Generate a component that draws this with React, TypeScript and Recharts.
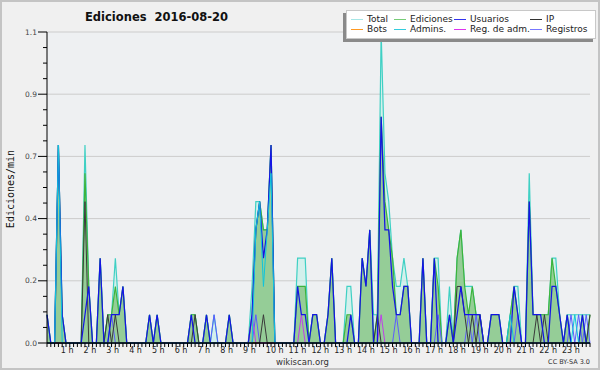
import React from 'react';
import {
  ComposedChart,
  Area,
  Line,
  XAxis,
  YAxis,
  CartesianGrid,
  ReferenceLine,
} from 'recharts';

// Ediciones por minuto, en intervalos de 10 minutos (144 por día), 12 por fila = 2 horas
const total = [
  0.1, 0, 0, 0.7, 0.1, 0, 0, 0, 0, 0, 0.7, 0.2,
  0, 0, 0.3, 0, 0.1, 0.1, 0.3, 0.1, 0.2, 0, 0, 0,
  0, 0, 0, 0.1, 0, 0.1, 0, 0, 0, 0, 0, 0,
  0, 0, 0.1, 0.1, 0, 0, 0.1, 0, 0.1, 0, 0, 0,
  0.1, 0, 0, 0, 0, 0, 0.2, 0.5, 0.5, 0.4, 0.4, 0.7,
  0, 0, 0, 0, 0, 0, 0.3, 0.3, 0.3, 0, 0.1, 0.1,
  0, 0, 0.1, 0.3, 0, 0, 0, 0.2, 0.2, 0, 0, 0.3,
  0.2, 0.4, 0.1, 0.1, 1.1, 0.6, 0.5, 0.3, 0.2, 0.2, 0.3, 0.2,
  0, 0, 0, 0.3, 0, 0, 0.3, 0.3, 0, 0, 0.2, 0,
  0.3, 0.4, 0.2, 0.2, 0.2, 0.1, 0.1, 0, 0, 0.1, 0.1, 0.1,
  0, 0, 0.1, 0.2, 0.2, 0, 0, 0.6, 0.1, 0.1, 0.1, 0.1,
  0.1, 0.3, 0.3, 0.1, 0, 0.1, 0.1, 0.1, 0.1, 0.1, 0.1, 0.1,
];

const ediciones = [
  0.1, 0, 0, 0.7, 0.1, 0, 0, 0, 0, 0, 0.6, 0.2,
  0, 0, 0.3, 0, 0.1, 0.1, 0.2, 0.1, 0.2, 0, 0, 0,
  0, 0, 0, 0.1, 0, 0.1, 0, 0, 0, 0, 0, 0,
  0, 0, 0.1, 0.1, 0, 0, 0.1, 0, 0, 0, 0, 0,
  0.1, 0, 0, 0, 0, 0, 0.1, 0.4, 0.5, 0.4, 0.4, 0.7,
  0, 0, 0, 0, 0, 0, 0.2, 0.2, 0.2, 0, 0.1, 0.1,
  0, 0, 0.1, 0.3, 0, 0, 0, 0.1, 0.1, 0, 0, 0.3,
  0.2, 0.4, 0, 0.1, 0.8, 0.5, 0.4, 0.3, 0.1, 0.1, 0.2, 0.2,
  0, 0, 0, 0.3, 0, 0, 0.3, 0.2, 0, 0, 0.1, 0,
  0.3, 0.4, 0.2, 0.1, 0.2, 0.1, 0.1, 0, 0, 0.1, 0.1, 0.1,
  0, 0, 0.1, 0.2, 0.1, 0, 0, 0.5, 0.1, 0.1, 0.1, 0.1,
  0.1, 0.3, 0.2, 0.1, 0, 0.1, 0, 0, 0, 0.1, 0, 0.1,
];

const usuarios = [
  0.1, 0, 0, 0.7, 0.1, 0, 0, 0, 0, 0, 0.1, 0.2,
  0, 0, 0.3, 0, 0, 0.1, 0.1, 0.1, 0.2, 0, 0, 0,
  0, 0, 0, 0.1, 0, 0.1, 0, 0, 0, 0, 0, 0,
  0, 0, 0.1, 0, 0, 0, 0.1, 0, 0, 0, 0, 0,
  0.1, 0, 0, 0, 0, 0, 0.1, 0.4, 0.5, 0.3, 0.4, 0.7,
  0, 0, 0, 0, 0, 0, 0.2, 0.1, 0.1, 0, 0.1, 0.1,
  0, 0, 0.1, 0.3, 0, 0, 0, 0, 0.1, 0, 0, 0.3,
  0.2, 0.4, 0, 0, 0.8, 0.4, 0.4, 0.2, 0.1, 0.1, 0.2, 0.2,
  0, 0, 0, 0.3, 0, 0, 0.3, 0, 0, 0, 0.1, 0,
  0.1, 0.2, 0.1, 0.1, 0.1, 0.1, 0.1, 0, 0, 0.1, 0.1, 0.1,
  0, 0, 0, 0.2, 0.1, 0, 0, 0.5, 0.1, 0.1, 0.1, 0,
  0, 0.2, 0.2, 0.1, 0, 0.1, 0, 0, 0, 0.1, 0, 0,
];

const ip = [
  0, 0, 0, 0, 0, 0, 0, 0, 0, 0, 0.5, 0,
  0, 0, 0, 0, 0.1, 0, 0.1, 0, 0, 0, 0, 0,
  0, 0, 0, 0, 0, 0, 0, 0, 0, 0, 0, 0,
  0, 0, 0, 0.1, 0, 0, 0, 0, 0, 0, 0, 0,
  0, 0, 0, 0, 0, 0, 0, 0, 0, 0.1, 0, 0,
  0, 0, 0, 0, 0, 0, 0, 0, 0, 0, 0, 0,
  0, 0, 0, 0, 0, 0, 0, 0, 0, 0, 0, 0,
  0, 0, 0, 0.1, 0, 0, 0, 0, 0, 0, 0, 0,
  0, 0, 0, 0, 0, 0, 0, 0, 0, 0, 0, 0,
  0.2, 0.2, 0.1, 0, 0.1, 0, 0.1, 0, 0, 0, 0, 0,
  0, 0, 0, 0, 0, 0, 0, 0, 0, 0.1, 0, 0.1,
  0, 0, 0, 0, 0, 0, 0, 0, 0, 0, 0, 0.1,
];

const bots = [
  0, 0, 0, 0, 0, 0, 0, 0, 0, 0, 0, 0,
  0, 0, 0, 0, 0, 0, 0, 0, 0, 0, 0, 0,
  0, 0, 0, 0, 0, 0, 0, 0, 0, 0, 0, 0,
  0, 0, 0, 0, 0, 0, 0, 0, 0, 0, 0, 0,
  0, 0, 0, 0, 0, 0, 0, 0, 0, 0, 0, 0,
  0, 0, 0, 0, 0, 0, 0, 0, 0, 0, 0, 0,
  0, 0, 0, 0, 0, 0, 0, 0, 0, 0, 0, 0,
  0, 0, 0, 0, 0, 0, 0, 0, 0, 0, 0, 0,
  0, 0, 0, 0, 0, 0, 0, 0, 0, 0, 0, 0,
  0, 0, 0, 0, 0, 0, 0, 0, 0, 0, 0, 0,
  0, 0, 0, 0, 0, 0, 0, 0, 0, 0, 0, 0,
  0, 0, 0, 0, 0, 0, 0, 0, 0, 0, 0, 0,
];

const admins = [
  0, 0, 0, 0.7, 0, 0, 0, 0, 0, 0, 0, 0,
  0, 0, 0, 0, 0, 0, 0, 0, 0, 0, 0, 0,
  0, 0, 0, 0, 0, 0, 0, 0, 0, 0, 0, 0,
  0, 0, 0, 0, 0, 0, 0, 0, 0, 0, 0, 0,
  0, 0, 0, 0, 0, 0, 0, 0.4, 0.5, 0.2, 0.4, 0.6,
  0, 0, 0, 0, 0, 0, 0, 0, 0, 0, 0, 0,
  0, 0, 0, 0, 0, 0, 0, 0, 0, 0, 0, 0,
  0, 0, 0, 0, 0, 0, 0, 0, 0, 0, 0, 0,
  0, 0, 0, 0, 0, 0, 0, 0, 0, 0, 0, 0,
  0, 0, 0, 0, 0, 0, 0, 0, 0, 0, 0, 0,
  0, 0, 0.1, 0, 0, 0, 0, 0, 0, 0, 0, 0,
  0, 0, 0, 0, 0, 0, 0, 0.1, 0, 0, 0, 0,
];

const regAdm = [
  0, 0, 0, 0, 0, 0, 0, 0, 0, 0, 0, 0,
  0, 0, 0, 0, 0, 0, 0, 0, 0, 0, 0, 0,
  0, 0, 0, 0, 0, 0, 0, 0, 0, 0, 0, 0,
  0, 0, 0, 0, 0, 0, 0, 0, 0, 0, 0, 0,
  0, 0, 0, 0, 0, 0, 0.1, 0, 0, 0, 0, 0,
  0, 0, 0, 0, 0, 0, 0, 0.1, 0, 0, 0, 0,
  0, 0, 0, 0, 0, 0, 0, 0, 0, 0, 0, 0,
  0, 0, 0, 0, 0.1, 0, 0, 0, 0, 0, 0, 0,
  0, 0, 0, 0, 0, 0, 0, 0, 0, 0, 0, 0,
  0, 0, 0, 0, 0, 0, 0, 0, 0, 0, 0, 0,
  0, 0, 0, 0, 0, 0, 0, 0, 0, 0, 0, 0,
  0, 0, 0, 0, 0, 0, 0, 0, 0, 0, 0, 0,
];

const registros = [
  0, 0, 0, 0, 0, 0, 0, 0, 0, 0, 0, 0,
  0, 0, 0, 0, 0, 0.1, 0, 0, 0, 0, 0, 0,
  0, 0, 0, 0, 0, 0, 0, 0, 0, 0, 0, 0,
  0, 0, 0, 0, 0, 0, 0, 0, 0.1, 0, 0, 0,
  0, 0, 0, 0, 0, 0, 0, 0.1, 0, 0, 0, 0,
  0, 0, 0, 0, 0, 0, 0, 0, 0, 0, 0, 0,
  0, 0, 0, 0, 0, 0, 0, 0, 0, 0, 0, 0,
  0, 0, 0, 0, 0, 0, 0, 0, 0.1, 0, 0, 0,
  0, 0, 0, 0, 0, 0, 0, 0.1, 0, 0, 0, 0,
  0, 0, 0, 0.1, 0, 0.1, 0, 0, 0, 0, 0, 0,
  0, 0, 0, 0, 0.1, 0, 0, 0, 0, 0, 0, 0,
  0, 0, 0, 0, 0, 0, 0.1, 0, 0.1, 0, 0.1, 0,
];

const hourLabels = [
  '1 h', '2 h', '3 h', '4 h', '5 h', '6 h', '7 h', '8 h', '9 h', '10 h', '11 h', '12 h',
  '13 h', '14 h', '15 h', '16 h', '17 h', '18 h', '19 h', '20 h', '21 h', '22 h', '23 h',
];

const yMajor = [0, 0.22, 0.44, 0.66, 0.88, 1.1];
const yLabels = ['0.0', '0.2', '0.4', '0.7', '0.9', '1.1'];

const legendItems = [
  { name: 'Total', color: '#a6e6e6' },
  { name: 'Ediciones', color: '#77cc77' },
  { name: 'Usuarios', color: '#3333ee' },
  { name: 'IP', color: '#333333' },
  { name: 'Bots', color: '#ff9922' },
  { name: 'Admins.', color: '#33ccdd' },
  { name: 'Reg. de adm.', color: '#dd33ee' },
  { name: 'Registros', color: '#7777ff' },
];

const data = total.map((t, i) => ({
  i,
  total: t,
  ediciones: ediciones[i],
  usuarios: usuarios[i],
  ip: ip[i],
  bots: bots[i],
  admins: admins[i],
  regAdm: regAdm[i],
  registros: registros[i],
}));

const xTicks = data.map((d) => d.i);
// 4 subdivisiones entre cada marca principal
const yTicks: number[] = [];
for (let k = 0; k < yMajor.length - 1; k++) {
  for (let s = 0; s < 4; s++) yTicks.push(yMajor[k] + ((yMajor[k + 1] - yMajor[k]) * s) / 4);
}
yTicks.push(yMajor[yMajor.length - 1]);

const FONT = "'DejaVu Sans', sans-serif";

const XTick = (props: any) => {
  const { x, y, payload } = props;
  const i = payload.value;
  const label = i % 6 === 0 ? hourLabels[i / 6 - 1] : undefined;
  return (
    <g>
      <line x1={x} y1={y} x2={x} y2={y + 4} stroke="#000" strokeWidth={1} />
      {label && (
        <text x={x - 9} y={y + 10} fontSize={8} fill="#222" fontFamily={FONT} textAnchor="start">
          {label}
        </text>
      )}
    </g>
  );
};

const YTick = (props: any) => {
  const { x, y, payload } = props;
  const idx = yMajor.findIndex((m) => Math.abs(m - payload.value) < 1e-6);
  const major = idx >= 0;
  return (
    <g>
      <line x1={x - (major ? 9 : 4)} y1={y} x2={x} y2={y} stroke="#000" strokeWidth={1} />
      {major && (
        <text x={x - 10} y={y + 2.5} fontSize={7.5} fill="#444" fontFamily={FONT} textAnchor="end">
          {yLabels[idx]}
        </text>
      )}
    </g>
  );
};

const App: React.FC = () => {
  return (
    <div style={{ position: 'fixed', left: 0, top: 0, width: 600, height: 370, background: '#f0f0f0', fontFamily: FONT }}>
      <div style={{ position: 'absolute', left: 0, top: 0 }}>
        <ComposedChart width={600} height={370} data={data} margin={{ top: 32, right: 10, bottom: 0, left: 0 }}>
          <CartesianGrid vertical={false} horizontalValues={yMajor} stroke="#cccccc" fill="#eef0f2" fillOpacity={1} />
          <XAxis
            dataKey="i"
            type="number"
            domain={[0, 143]}
            ticks={xTicks}
            interval={0}
            height={27}
            tickSize={0}
            tickMargin={0}
            tickLine={false}
            tick={<XTick />}
            axisLine={{ stroke: '#000' }}
          />
          <YAxis
            type="number"
            domain={[0, 1.1]}
            ticks={yTicks}
            interval={0}
            width={47}
            tickSize={0}
            tickMargin={0}
            tickLine={false}
            tick={<YTick />}
            axisLine={{ stroke: '#000' }}
          />
          <Area type="linear" dataKey="total" stroke="#3fd0c4" strokeWidth={1.2} fill="#c8f0ea" fillOpacity={0.7} dot={false} activeDot={false} isAnimationActive={false} />
          <Area type="linear" dataKey="ediciones" stroke="#3cb43c" strokeWidth={1.2} fill="#8fca8f" fillOpacity={0.92} dot={false} activeDot={false} isAnimationActive={false} />
          <Line type="linear" dataKey="bots" stroke="#ff9922" strokeWidth={1} dot={false} activeDot={false} isAnimationActive={false} />
          <Line type="linear" dataKey="registros" stroke="#5c5cff" strokeWidth={1} dot={false} activeDot={false} isAnimationActive={false} />
          <Line type="linear" dataKey="regAdm" stroke="#c040e8" strokeWidth={1} dot={false} activeDot={false} isAnimationActive={false} />
          <Line type="linear" dataKey="ip" stroke="#3a3a3a" strokeWidth={1} dot={false} activeDot={false} isAnimationActive={false} />
          <Line type="linear" dataKey="usuarios" stroke="#1414e6" strokeWidth={1.25} dot={false} activeDot={false} isAnimationActive={false} />
          <Line type="linear" dataKey="admins" stroke="#10c4dc" strokeWidth={1} dot={false} activeDot={false} isAnimationActive={false} />
          <ReferenceLine y={0} stroke="#000" strokeWidth={1} />
        </ComposedChart>
      </div>

      <div style={{ position: 'absolute', left: 85, top: 10, fontSize: 11.5, fontWeight: 'bold', color: '#111', whiteSpace: 'pre' }}>
        {'Ediciones  2016-08-20'}
      </div>

      <div
        style={{
          position: 'absolute',
          left: 10,
          top: 189,
          transform: 'translate(-50%, -50%) rotate(-90deg)',
          fontFamily: "'DejaVu Sans Mono', monospace",
          fontSize: 10,
          color: '#111',
          whiteSpace: 'nowrap',
        }}
      >
        Ediciones/min
      </div>

      <div style={{ position: 'absolute', left: 343, top: 13, width: 250, height: 29, background: '#8a8a8a' }} />
      <div
        style={{
          position: 'absolute',
          left: 346,
          top: 10,
          width: 250,
          height: 29,
          boxSizing: 'border-box',
          background: '#ffffff',
          border: '1px solid #c8c8c8',
        }}
      >
        {legendItems.map((item, k) => {
          const colX = [4, 47, 107, 183][k % 4];
          const rowY = k < 4 ? 3 : 13;
          return (
            <div key={item.name} style={{ position: 'absolute', left: colX, top: rowY, height: 11, display: 'flex', alignItems: 'center', whiteSpace: 'nowrap' }}>
              <span style={{ display: 'inline-block', width: 12, height: 1, background: item.color, marginRight: 4 }} />
              <span style={{ fontSize: 9, color: '#222', lineHeight: '11px' }}>{item.name}</span>
            </div>
          );
        })}
      </div>

      <div style={{ position: 'absolute', left: 276, top: 357, fontSize: 8.5, color: '#333' }}>wikiscan.org</div>
      <div style={{ position: 'absolute', right: 10, top: 358, fontSize: 6.5, color: '#333' }}>CC BY-SA 3.0</div>

      <div style={{ position: 'absolute', left: 0, top: 0, width: 600, height: 370, boxSizing: 'border-box', border: '2px solid #c4c4c4', pointerEvents: 'none' }} />
    </div>
  );
};

export default App;
